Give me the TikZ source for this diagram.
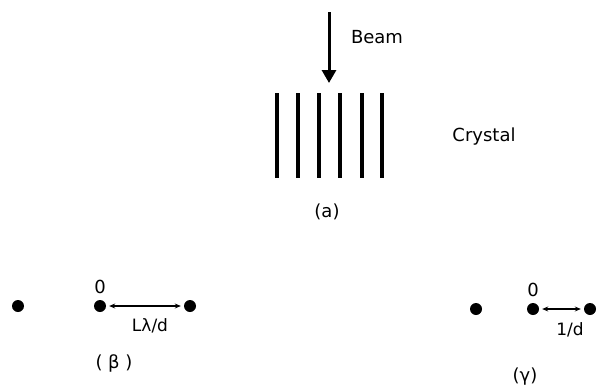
\documentclass[tikz,border=0pt]{standalone}
\usepackage{fontspec}
\setmainfont{DejaVu Sans}
\usetikzlibrary{arrows.meta, positioning}

\begin{document}
\begin{tikzpicture}[x=1pt, y=-1pt,
  lbl/.style={font=\fontsize{18}{20}\selectfont, inner sep=1pt},
  small/.style={font=\fontsize{17}{19}\selectfont, inner sep=1pt},
  spot/.style={circle, fill=black, inner sep=0pt, minimum size=12pt},
  plane/.style={line width=3.2pt},
  beamarrow/.style={-{Triangle[length=13pt, width=14pt]}, line width=3pt},
  dist/.style={{Stealth[length=6pt, width=5pt]}-{Stealth[length=6pt, width=5pt]}, line width=1.1pt, shorten <=3pt, shorten >=3pt}
]
\useasboundingbox (0,0) rectangle (597,388);

% (a) beam on crystal
\coordinate (beamtop) at (329,12);
\coordinate (beamtip) at (329,83);
\draw[beamarrow] (beamtop) -- (beamtip);
\node[lbl] (beam) at (377,37) {Beam};
\foreach \x in {277,298,319,340,362,382}
  \draw[plane] (\x,93) -- (\x,178);
\node[lbl] (crystal) at (484,137) {Crystal};
\node[lbl] (capa) at (327,212) {(a)};

% (b) pattern
\node[spot] (b1) at (18,306) {};
\node[spot] (b2) at (100,306) {};
\node[spot] (b3) at (190,306) {};
\node[lbl, above=5pt of b2] (b0) {0};
\draw[dist] (b2) -- (b3);
\node[small] (bd) at (150,326) {Lλ/d};
\node[lbl] (capb) at (114,363) {( β )};

% (c) pattern
\node[spot] (c1) at (476,309) {};
\node[spot] (c2) at (533,309) {};
\node[spot] (c3) at (590,309) {};
\node[lbl, above=5pt of c2] (c0) {0};
\draw[dist] (c2) -- (c3);
\node[small] (cd) at (570,330) {1/d};
\node[lbl] (capc) at (525,377) {(γ)};
\end{tikzpicture}
\end{document}
